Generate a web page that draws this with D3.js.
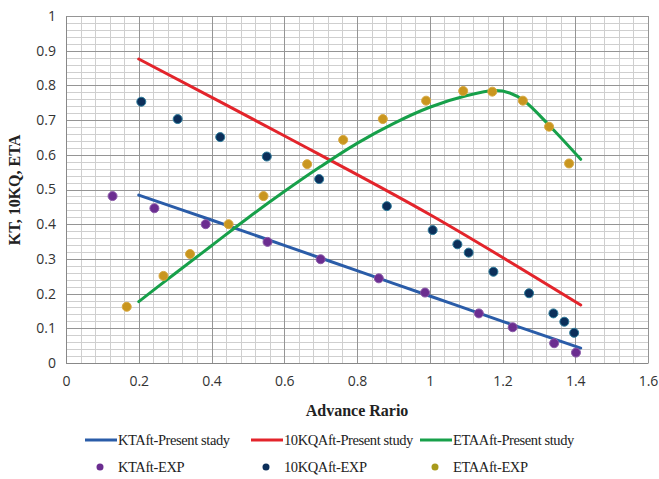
<!DOCTYPE html>
<html>
<head>
<meta charset="utf-8">
<script src="https://cdn.jsdelivr.net/npm/d3@7"></script>
<style>
  body { margin: 0; background: #fff; }
  .tick text { font-family: "Open Sans", "Noto Sans", sans-serif; font-size: 14px; fill: #333; }
  .grid line { shape-rendering: crispEdges; }
  .grid .domain { display: none; }
</style>
</head>
<body>
<div id="plot"></div>
<script>
var svgWidth = 659;
var svgHeight = 479;

var margin = { top: 16, right: 11, bottom: 116, left: 66 };
var width = svgWidth - margin.left - margin.right;
var height = svgHeight - margin.top - margin.bottom;

// fitted curves (present study)
var ktLineJ  = [0.2, 0.4, 0.6, 0.8, 1.0, 1.2, 1.415];
var ktLine   = [0.484, 0.412, 0.339, 0.266, 0.193, 0.120, 0.043];
var kqLineJ  = [0.2, 0.6, 1.0, 1.415];
var kqLine   = [0.876, 0.655, 0.428, 0.167];
var etaLineJ = [0.2, 0.3, 0.4, 0.5, 0.6, 0.7, 0.8, 0.9, 1.0, 1.1, 1.18, 1.22, 1.26, 1.33, 1.415];
var etaLine  = [0.177, 0.258, 0.338, 0.418, 0.494, 0.566, 0.633, 0.690, 0.737, 0.770, 0.785, 0.778, 0.755, 0.683, 0.587];

// experiment points
var ktExpJ  = [0.128, 0.243, 0.384, 0.554, 0.700, 0.860, 0.987, 1.135, 1.228, 1.342, 1.402];
var ktExp   = [0.481, 0.446, 0.400, 0.349, 0.299, 0.244, 0.203, 0.143, 0.103, 0.057, 0.030];
var kqExpJ  = [0.207, 0.307, 0.424, 0.552, 0.696, 0.882, 1.008, 1.076, 1.107, 1.175, 1.273, 1.340, 1.370, 1.397];
var kqExp   = [0.753, 0.703, 0.651, 0.595, 0.530, 0.452, 0.383, 0.342, 0.318, 0.263, 0.201, 0.143, 0.119, 0.087];
var etaExpJ = [0.167, 0.268, 0.341, 0.447, 0.543, 0.663, 0.762, 0.871, 0.990, 1.092, 1.172, 1.256, 1.328, 1.383];
var etaExp  = [0.162, 0.251, 0.314, 0.400, 0.481, 0.573, 0.643, 0.703, 0.756, 0.784, 0.782, 0.756, 0.681, 0.575];

var xTicks = [0, 0.2, 0.4, 0.6, 0.8, 1, 1.2, 1.4, 1.6];
var yTicks = [0, 0.1, 0.2, 0.3, 0.4, 0.5, 0.6, 0.7, 0.8, 0.9, 1];

var legendNames = ["KTAft-Present stady", "10KQAft-Present study", "ETAAft-Present study",
                   "KTAft-EXP", "10KQAft-EXP", "ETAAft-EXP"];

var blue = "#2a5ca8", red = "#e3242b", green = "#17a04a";
var purple = "#6b2d90", navy = "#0c2f5a", gold = "#c9961f";

function zip(xs, ys) {
  return xs.map((x, i) => ({ J: x, v: ys[i] }));
}

var svg = d3.select("#plot")
  .append("svg")
  .attr("width", svgWidth)
  .attr("height", svgHeight);

var chartGroup = svg.append("g")
  .attr("transform", `translate(${margin.left}, ${margin.top})`);

var xScale = d3.scaleLinear().domain([0, 1.6]).range([0, width]);
var yScale = d3.scaleLinear().domain([0, 1]).range([height, 0]);

// minor gridlines
chartGroup.append("g")
  .attr("class", "grid")
  .attr("transform", `translate(0, ${height})`)
  .call(d3.axisBottom(xScale).tickValues(d3.range(0, 41).map(i => i * 0.04)).tickSize(-height).tickFormat(""))
  .selectAll("line").attr("stroke", "#cfcfcf");
chartGroup.append("g")
  .attr("class", "grid")
  .call(d3.axisLeft(yScale).tickValues(d3.range(0, 51).map(i => i * 0.02)).tickSize(-width).tickFormat(""))
  .selectAll("line").attr("stroke", "#cfcfcf");

// major gridlines
chartGroup.append("g")
  .attr("class", "grid")
  .attr("transform", `translate(0, ${height})`)
  .call(d3.axisBottom(xScale).tickValues(xTicks).tickSize(-height).tickFormat(""))
  .selectAll("line").attr("stroke", "#959595");
chartGroup.append("g")
  .attr("class", "grid")
  .call(d3.axisLeft(yScale).tickValues(yTicks).tickSize(-width).tickFormat(""))
  .selectAll("line").attr("stroke", "#959595");

// axes labels
var bottomAxis = d3.axisBottom(xScale).tickValues(xTicks).tickSize(0).tickPadding(13).tickFormat(d3.format("~g"));
var leftAxis = d3.axisLeft(yScale).tickValues(yTicks).tickSize(0).tickPadding(10).tickFormat(d3.format("~g"));

var xAxisG = chartGroup.append("g").attr("transform", `translate(0, ${height})`).call(bottomAxis);
xAxisG.select(".domain").attr("stroke", "#888");
var yAxisG = chartGroup.append("g").call(leftAxis);
yAxisG.select(".domain").attr("stroke", "#888");

// lines
function addLine(xs, ys, color) {
  var line = d3.line()
    .x(d => xScale(d.J))
    .y(d => yScale(d.v))
    .curve(d3.curveCatmullRom);
  return chartGroup.append("path")
    .datum(zip(xs, ys))
    .attr("d", line)
    .attr("fill", "none")
    .attr("stroke", color)
    .attr("stroke-width", 3)
    .attr("stroke-linecap", "round");
}
addLine(ktLineJ, ktLine, blue);
addLine(kqLineJ, kqLine, red);
addLine(etaLineJ, etaLine, green);

function makeCircles(xs, ys, color, stroke) {
  return chartGroup.append("g").selectAll("circle")
    .data(zip(xs, ys))
    .enter()
    .append("circle")
    .attr("cx", d => xScale(d.J))
    .attr("cy", d => yScale(d.v))
    .attr("r", 4.5)
    .attr("fill", color)
    .attr("stroke", stroke)
    .attr("stroke-width", 1);
}
makeCircles(ktExpJ, ktExp, purple, "#8a5aa8");
makeCircles(kqExpJ, kqExp, navy, "#2a7a9a");
makeCircles(etaExpJ, etaExp, gold, "#d8a840");

// axis titles
svg.append("text")
  .attr("x", margin.left + width / 2)
  .attr("y", 416)
  .attr("text-anchor", "middle")
  .attr("font-family", "Liberation Serif, serif")
  .attr("font-weight", "bold")
  .attr("font-size", "16px")
  .attr("fill", "#222")
  .text("Advance Rario");

svg.append("text")
  .attr("transform", "translate(20, 190) rotate(-90)")
  .attr("text-anchor", "middle")
  .attr("font-family", "Liberation Serif, serif")
  .attr("font-weight", "bold")
  .attr("font-size", "16px")
  .attr("fill", "#222")
  .text("KT, 10KQ, ETA");

// legend
var legendX = [117, 283, 452];
var legendRow = [440, 467];
var lineColors = [blue, red, green];
var dotColors = [purple, navy, "#a89a1c"];

var legend = svg.append("g")
  .attr("font-family", "Liberation Serif, serif")
  .attr("font-size", "14.5px")
  .attr("fill", "#222");

legendNames.forEach(function(name, i) {
  var col = i % 3, row = Math.floor(i / 3);
  var x = legendX[col], y = legendRow[row];
  if (row === 0) {
    legend.append("line")
      .attr("x1", x - 32).attr("x2", x)
      .attr("y1", y).attr("y2", y)
      .attr("stroke", lineColors[col])
      .attr("stroke-width", 3);
  } else {
    legend.append("circle")
      .attr("cx", x - 17).attr("cy", y)
      .attr("r", 3.5)
      .attr("fill", dotColors[col]);
  }
  legend.append("text")
    .attr("x", x + 1)
    .attr("y", y)
    .attr("dy", "0.35em")
    .attr("letter-spacing", "-0.4px")
    .text(name);
});
</script>
</body>
</html>
